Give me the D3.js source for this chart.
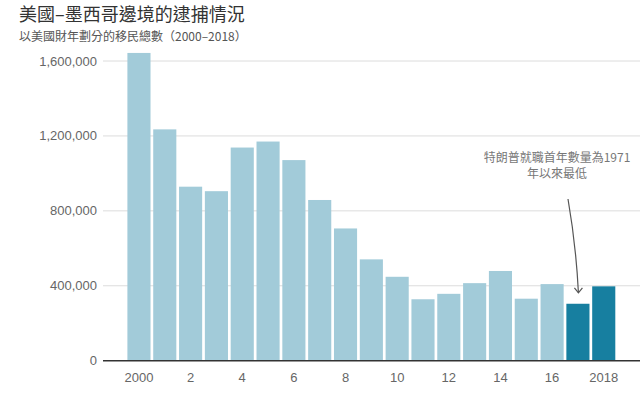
<!DOCTYPE html>
<html>
<head>
<meta charset="utf-8">
<script src="https://cdn.jsdelivr.net/npm/d3@7"></script>
<style>
  body { margin: 0; background: #fff; }
  svg text { font-family: "Noto Sans CJK TC", "Noto Sans", sans-serif; }
  svg text.num { font-family: "Liberation Sans", "DejaVu Sans", sans-serif; }
</style>
</head>
<body>
<svg id="chart" width="640" height="397"></svg>
<script>
const years = d3.range(2000, 2019);
const arrests = [1643000, 1235000, 929000, 905000, 1138000, 1170000, 1071000, 858000,
  706000, 541000, 448000, 328000, 357000, 414000, 479000, 331000, 409000, 304000, 397000];
const highlightYears = [2017, 2018];
const yTicks = [0, 400000, 800000, 1200000, 1600000];
const xTickYears = [2000, 2002, 2004, 2006, 2008, 2010, 2012, 2014, 2016, 2018];
const xTickLabel = y => (y === 2000 || y === 2018) ? String(y) : String(y % 100);

const svg = d3.select("#chart");
const width = +svg.attr("width");

const x = d3.scaleBand()
  .domain(years)
  .range([127.4, 615.3])
  .paddingInner(0.105)
  .paddingOuter(0);

const y = d3.scaleLinear()
  .domain([0, 1600000])
  .range([360.7, 61]);

// title
svg.append("text")
  .attr("x", 19).attr("y", 21)
  .attr("font-size", 18).attr("fill", "#333")
  .text("美國–墨西哥邊境的逮捕情況");

svg.append("text")
  .attr("x", 19).attr("y", 41)
  .attr("font-size", 12).attr("fill", "#555")
  .text("以美國財年劃分的移民總數（2000–2018）");

// gridlines + y labels
const yAxis = svg.append("g");
yAxis.selectAll("line")
  .data(yTicks.filter(d => d > 0))
  .join("line")
    .attr("x1", 103).attr("x2", width)
    .attr("y1", d => y(d)).attr("y2", d => y(d))
    .attr("stroke", "#dcdcdc").attr("stroke-width", 1);

yAxis.selectAll("text")
  .data(yTicks)
  .join("text")
    .attr("class", "num")
    .attr("x", 97)
    .attr("y", d => y(d))
    .attr("dy", "0.35em")
    .attr("text-anchor", "end")
    .attr("font-size", 13).attr("fill", "#666")
    .text(d => d3.format(",")(d));

// bars
svg.append("g").selectAll("rect")
  .data(years.map((yr, i) => ({year: yr, value: arrests[i]})))
  .join("rect")
    .attr("x", d => x(d.year))
    .attr("width", x.bandwidth())
    .attr("y", d => y(d.value))
    .attr("height", d => y(0) - y(d.value))
    .attr("fill", d => highlightYears.includes(d.year) ? "#177fa0" : "#a2cbd9");

// baseline
svg.append("line")
  .attr("x1", 103).attr("x2", width)
  .attr("y1", y(0)).attr("y2", y(0))
  .attr("stroke", "#333").attr("stroke-width", 1.5);

// x labels
svg.append("g").selectAll("text")
  .data(xTickYears)
  .join("text")
    .attr("class", "num")
    .attr("x", d => x(d) + x.bandwidth() / 2)
    .attr("y", 382)
    .attr("text-anchor", "middle")
    .attr("font-size", 13).attr("fill", "#666")
    .text(xTickLabel);

// annotation
const ann = svg.append("g").attr("font-size", 12).attr("fill", "#777").attr("text-anchor", "middle");
ann.append("text").attr("x", 557).attr("y", 162).text("特朗普就職首年數量為1971");
ann.append("text").attr("x", 557).attr("y", 178).text("年以來最低");

const tipX = x(2017) + x.bandwidth() / 2 + 0.5;
const tipY = y(304000) - 11;
svg.append("path")
  .attr("d", `M568,199 Q576,245 ${tipX},${tipY}`)
  .attr("fill", "none").attr("stroke", "#555").attr("stroke-width", 1.2);
svg.append("path")
  .attr("d", `M${tipX - 4},${tipY - 5} L${tipX},${tipY} L${tipX + 4},${tipY - 5}`)
  .attr("fill", "none").attr("stroke", "#555").attr("stroke-width", 1.2);
</script>
</body>
</html>
